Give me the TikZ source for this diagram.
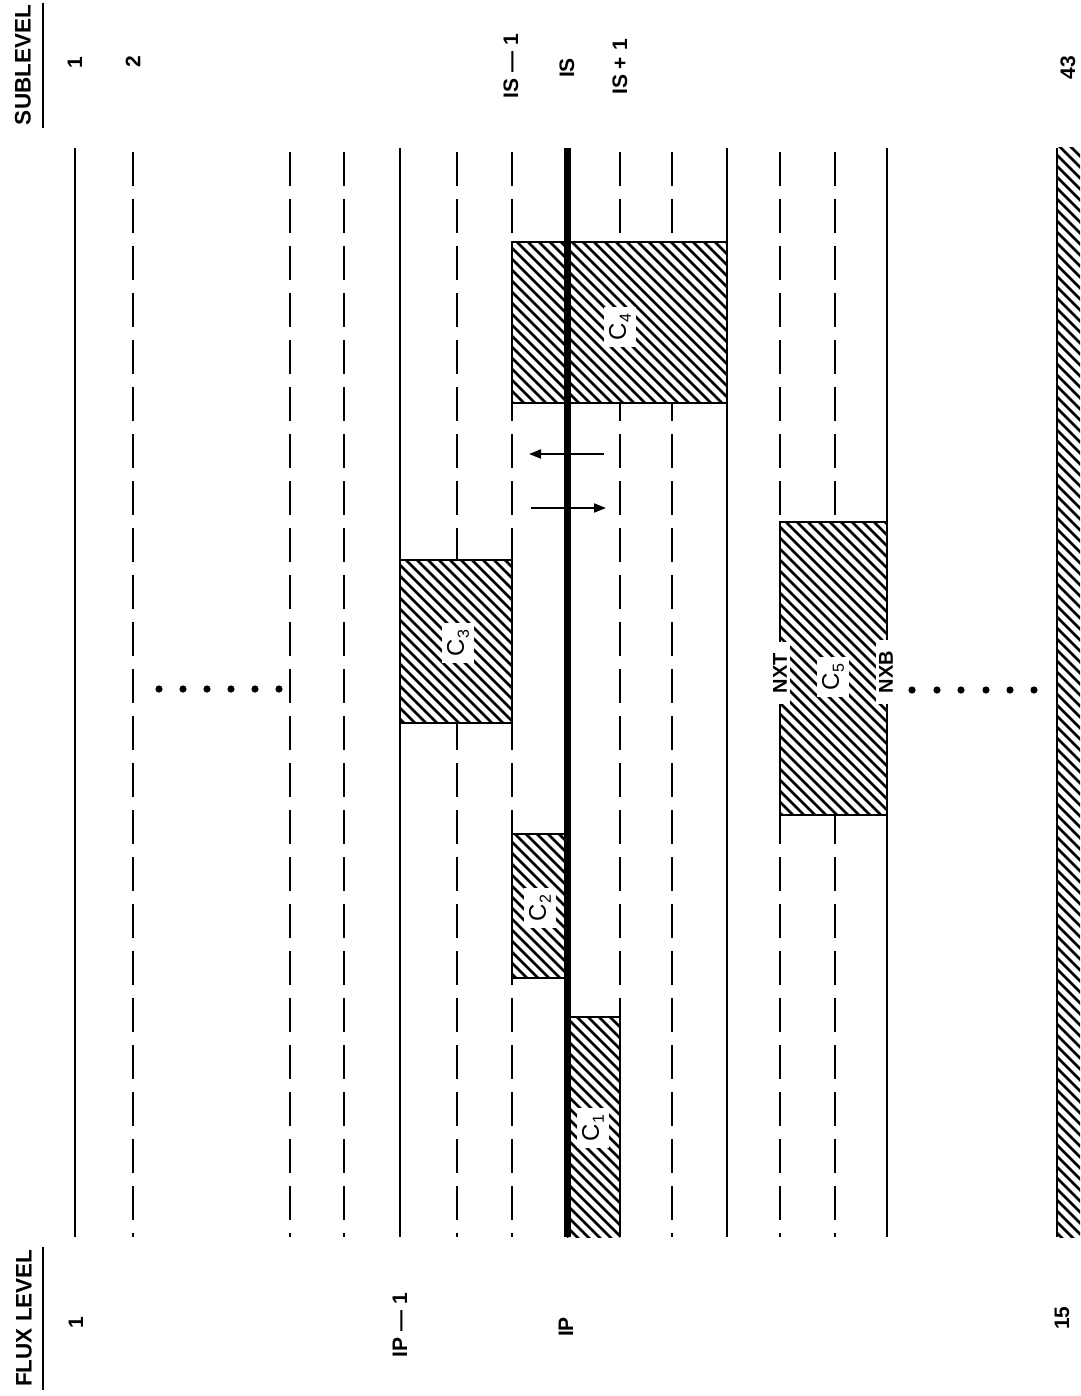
\documentclass[tikz,border=0pt]{standalone}
\usepackage{fontspec}
\setmainfont{Liberation Sans}
\usetikzlibrary{arrows.meta}
\newcommand{\hatchrect}[4]{%
  \fill[white] (#1,#2) rectangle (#3,#4);
  \begin{scope}
    \clip (#1,#2) rectangle (#3,#4);
    \foreach \c in {-704,-693,...,946} \draw[hatchline] (\c,0) -- ++(1500,1500);
  \end{scope}}
\newcommand{\csub}[2]{#1\raisebox{-5pt}{\fontsize{16}{16}\selectfont #2}}
\begin{document}
\begin{tikzpicture}[x=1pt,y=-1pt,
  solidline/.style={line width=2.6pt},
  dashline/.style={line width=2.6pt, dash pattern=on 34pt off 13pt},
  heavyline/.style={line width=7pt},
  hatchline/.style={line width=2.6pt},
  boxedge/.style={line width=2.8pt, line join=miter},
  arr/.style={line width=1.8pt, -{Triangle[length=12pt,width=9pt]}},
  lab/.style={font=\bfseries\fontsize{21}{25}\selectfont, rotate=90, inner sep=0pt},
  head/.style={font=\bfseries\fontsize{22.5}{26}\selectfont, rotate=90, inner sep=0pt},
  clab/.style={font=\fontsize{24}{28}\selectfont, rotate=90, fill=white, inner xsep=7pt, inner ysep=5pt},
  nlab/.style={font=\bfseries\fontsize{20}{24}\selectfont, rotate=90, fill=white, inner xsep=11pt, inner ysep=3pt},
]
\useasboundingbox (0,0) rectangle (1080,1396);
\fill[white] (0,0) rectangle (1080,1396);

% level lines
\foreach \x in {75,400,727,887} \draw[solidline] (\x,148) -- (\x,1237);
\foreach \x in {133,290,344,457,512,620,672,780,835} \draw[dashline] (\x,152) -- (\x,1237);

% hatched blocks
\hatchrect{512}{242}{727}{403}
\draw[boxedge] (512,242) rectangle (727,403);
\hatchrect{400}{560}{512}{723}
\draw[boxedge] (400,560) rectangle (512,723);
\hatchrect{512}{834}{567}{978}
\draw[boxedge] (512,834) rectangle (567,978);
\hatchrect{567}{1017}{620}{1237}
\draw[boxedge] (567,1237) -- (567,1017) -- (620,1017) -- (620,1237);
\hatchrect{780}{522}{887}{815}
\draw[boxedge] (780,522) rectangle (887,815);
\hatchrect{1057}{148}{1080}{1237}
\draw[solidline] (1057,148) -- (1057,1237);

% heavy line IP / IS
\draw[heavyline] (567,148) -- (567,1237);

% arrows
\coordinate (a1s) at (604,454);
\coordinate (a1e) at (529,454);
\coordinate (a2s) at (531,508);
\coordinate (a2e) at (606,508);
\draw[arr] (a1s) -- (a1e);
\draw[arr] (a2s) -- (a2e);

% dots
\foreach \x in {159,183,207,231,255,279} \fill (\x,689) circle (3.6);
\foreach \x in {912,937,961,986,1010,1034} \fill (\x,690) circle (3.6);

% block labels
\node[clab] (c4) at (620,327) {\csub{C}{4}};
\node[clab] (c3) at (458,643) {\csub{C}{3}};
\node[clab] (c2) at (540,908) {\csub{C}{2}};
\node[clab] (c1) at (593,1128) {\csub{C}{1}};
\node[clab] (c5) at (833,677) {\csub{C}{5}};
\node[nlab] (nxt) at (780,673) {NXT};
\node[nlab] (nxb) at (886,672) {NXB};

% headers
\node[head] (subl) at (23,65) {SUBLEVEL};
\draw[line width=2pt] (43,3) -- (43,128);
\node[head] (flux) at (24,1318) {FLUX LEVEL};
\draw[line width=2pt] (43,1247) -- (43,1390);

% sublevel labels
\node[lab] (s1) at (75,63) {1};
\node[lab] (s2) at (133,62) {2};
\node[lab] (sm) at (511,66) {IS — 1};
\node[lab] (s0) at (567,68) {IS};
\node[lab] (sp) at (620,67) {IS + 1};
\node[lab] (s43) at (1068,68) {43};

% flux level labels
\node[lab] (f1) at (76,1323) {1};
\node[lab] (fm) at (400,1325) {IP — 1};
\node[lab] (f0) at (566,1327) {IP};
\node[lab] (f15) at (1062,1318) {15};
\end{tikzpicture}
\end{document}
